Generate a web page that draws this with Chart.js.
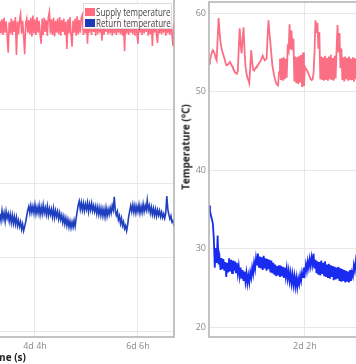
<!DOCTYPE html>
<html><head><meta charset="utf-8">
<script src="https://cdn.jsdelivr.net/npm/chart.js@4/dist/chart.umd.min.js"></script>
<style>
html,body{margin:0;padding:0;background:#fff;width:356px;height:364px;overflow:hidden;position:relative;font-family:'Open Sans',sans-serif}
.wrap{position:absolute}
#legend{position:absolute;left:83px;top:3px;width:89px;height:26px;background:rgba(255,255,255,0.95);border:1px solid #dcdcdc;box-sizing:border-box}
.lsq{position:absolute;left:1px;width:10px;height:8px}
.ltx{position:absolute;left:12px;font-family:'Open Sans',sans-serif;font-size:10px;line-height:11px;color:#444;white-space:nowrap;transform:scaleX(0.8);transform-origin:0 50%}
#xtitle{position:absolute;left:-13px;top:351px;font-weight:bold;font-size:10px;line-height:13px;color:#222;white-space:nowrap}
#ytitle{position:absolute;left:186px;top:147px;transform:translate(-50%,-50%) rotate(-90deg);font-weight:bold;font-size:10px;line-height:13px;color:#222;white-space:nowrap}
</style></head><body>
<div class="wrap" style="left:-204px;top:-5px;width:380px;height:369px"><canvas id="cl" width="380" height="369" style="width:380px;height:369px"></canvas></div>
<div class="wrap" style="left:176px;top:0px;width:342px;height:364px"><canvas id="cr" width="342" height="364" style="width:342px;height:364px"></canvas></div>
<div id="legend"></div>
<div id="xtitle">Time (s)</div>
<div id="ytitle">Temperature (°C)</div>
<script>
// ---- data (time in hours, sampled every half hour) ----
const SERIES_NAMES = ['Supply temperature', 'Return temperature'];
const X_TICKS = [50, 100, 150];
const LEFT_Y_TICKS = [10, 20, 30, 40, 50];
const RIGHT_Y_TICKS = [20, 30, 40, 50, 60];

const LEFT_T0 = 83, LEFT_STEP = 0.5;
const leftSupply = [
  51.9,50.2,52.1,50.0,52.3,50.3,51.8,49.9,47.6,51.7,50.2,52.2,50.0,51.9,50.4,52.4,47.3,51.8,50.1,52.0,
  52.8,50.2,51.9,49.9,47.4,51.6,52.2,50.3,52.0,50.1,52.3,49.8,52.6,50.2,52.1,50.0,52.4,50.3,51.9,50.1,
  48.8,52.2,50.0,52.3,50.4,52.0,49.9,52.4,53.1,50.2,52.1,50.0,52.3,49.8,51.9,50.3,52.2,50.1,52.4,49.9,
  52.0,50.4,52.2,50.0,51.8,48.1,52.1,50.2,52.4,50.0,48.4,51.9,50.3,52.2,49.9,52.5,50.1,52.0,50.3,52.3,
  52.7,50.0,52.2,50.2,52.4,48.8,52.1,50.3,52.6,50.0,52.2,50.4,51.9,49.9,52.6,50.1,52.2,50.3,52.0,49.2,
  52.3,50.0,52.1,50.4,52.4,50.1,52.6,50.2,52.0,49.9,52.3,50.2,52.1,50.0,52.4,50.3,51.9,50.1,52.2,49.9,
  52.0,47.8,52.3,50.2,52.1,50.0,52.4,50.3,52.0,50.1,52.6,49.9,52.2,50.2,48.8,52.1,50.3,52.5,50.0,52.2,
  50.2,52.0,50.4,52.3,49.9,52.1,50.1,52.4,48.5,52.0,50.3,52.2,50.0,48.9,51.9,50.2,52.3,50.1,52.0,50.3,
  52.4,49.9,52.6,50.2,52.1,50.0,52.3,50.2,48.5,51.6,50.4];
const leftReturn = [
  25.9,25.0,26.3,25.2,26.0,24.9,26.2,25.3,25.9,24.9,25.8,24.7,25.7,24.6,25.5,24.5,25.4,24.3,25.0,24.2,
  24.8,23.8,24.5,23.6,24.2,24.8,25.6,26.4,26.9,26.0,27.0,26.1,26.9,26.0,27.1,25.9,26.8,26.0,27.0,25.8,
  26.8,25.9,27.1,26.0,26.7,25.8,26.9,25.7,26.6,25.8,26.5,25.5,26.6,25.4,26.3,25.5,26.2,25.2,26.0,25.1,
  25.7,24.7,25.5,24.5,25.3,24.3,25.1,24.1,24.9,24.0,24.8,24.1,25.0,24.2,25.3,26.2,27.1,27.6,26.5,27.4,
  26.4,27.3,26.3,27.2,26.5,27.4,26.2,27.2,26.4,27.3,26.3,27.0,26.2,26.9,25.9,26.8,25.8,26.7,25.7,26.6,
  25.6,26.5,25.5,26.7,25.6,26.5,25.8,26.7,26.0,27.0,26.4,28.2,26.3,25.7,26.2,25.1,25.6,24.6,25.3,24.3,
  24.8,23.9,24.3,23.6,24.4,25.5,26.3,27.0,26.2,27.1,26.1,27.0,26.0,26.9,26.2,27.1,26.0,26.9,26.1,27.2,
  26.2,27.0,26.4,27.7,26.4,27.0,26.0,26.8,25.8,26.6,25.7,26.5,25.6,26.4,25.7,26.3,25.5,26.1,25.4,25.9,
  25.3,26.0,28.3,26.5,25.8,25.2,25.6,24.8,25.0,24.2,23.7];

const RIGHT_T0 = 0, RIGHT_STEP = 0.5;
const rightSupply = [
  53.6,54.1,54.5,55.0,55.3,55.1,54.8,54.3,54.0,56.8,59.4,57.6,56.3,55.6,55.1,54.7,54.3,53.8,53.4,53.4,
  53.5,53.7,53.8,53.5,53.3,53.0,52.8,52.5,52.4,52.3,52.6,55.5,58.1,56.0,54.9,56.8,58.2,55.4,53.3,52.4,
  51.8,51.5,51.1,53.2,55.3,53.8,52.8,52.7,52.9,53.1,53.3,53.4,53.6,53.8,54.0,54.3,54.6,54.3,54.0,54.1,
  54.2,56.9,59.1,57.5,56.2,54.8,53.4,52.7,52.0,51.5,51.1,50.9,50.8,52.5,54.2,51.5,54.3,51.4,54.4,51.6,
  54.2,51.8,55.6,55.2,58.6,55.4,57.8,55.3,56.8,51.3,54.5,51.1,54.4,51.0,54.6,51.2,54.7,50.6,55.0,50.7,
  53.2,52.9,52.8,52.5,52.2,51.9,51.6,51.5,51.6,52.4,55.0,59.1,57.5,58.8,55.5,57.6,51.6,54.5,51.5,54.4,
  51.4,54.6,51.5,54.3,51.4,54.5,51.6,54.7,51.5,54.3,51.4,54.6,51.7,55.5,58.5,55.0,57.5,53.0,55.5,51.5,
  54.4,51.3,54.5,51.6,54.3,51.4,54.5,51.6,54.2,51.5,54.4,51.3,54.3,51.6,54.2,51.5];
const rightReturn = [
  35.5,34.9,34.2,33.8,33.2,31.4,27.6,30.1,28.2,31.7,28.0,28.9,27.3,28.8,27.4,28.7,27.2,28.3,26.4,28.2,
  27.0,28.8,27.1,28.6,26.9,28.5,27.2,28.4,26.9,28.2,26.8,27.8,26.5,27.6,26.2,27.3,25.9,27.1,25.8,26.9,
  25.6,26.6,25.7,27.0,26.3,27.6,26.8,28.2,27.4,28.8,27.9,29.4,27.6,29.0,27.5,28.9,27.3,29.1,27.5,28.8,
  27.2,28.7,27.4,28.6,27.0,28.5,26.9,28.2,26.7,28.0,26.5,27.8,26.6,27.9,26.4,27.8,26.5,27.7,26.3,27.6,
  26.4,27.5,26.2,27.2,25.9,26.9,25.6,26.7,25.4,26.5,25.2,26.3,25.1,26.2,25.5,26.6,25.9,27.0,26.4,27.6,
  26.9,28.0,27.2,28.4,27.6,28.7,27.8,28.9,28.0,29.4,27.5,28.6,26.9,28.4,26.7,28.3,26.6,28.5,26.8,28.2,
  26.5,28.4,26.4,28.0,26.3,28.1,26.2,27.9,26.4,27.8,26.0,27.7,26.1,27.6,26.2,27.7,25.9,27.5,25.8,27.4,
  25.9,27.3,25.7,27.2,25.8,27.1,25.7,27.3,25.9,27.0,26.5,27.9,27.2,28.4,27.4,28.2];

// ---- helpers ----
function toPoints(vals, t0, step) { return vals.map((v, i) => ({x: t0 + i * step, y: v})); }
function fmtTime(h) { const d = Math.floor(h / 24), r = Math.round(h - d * 24); return d + 'd ' + r + 'h'; }

const framePlugin = {
  id: 'frame',
  afterDraw(chart) {
    const a = chart.chartArea, ctx = chart.ctx;
    ctx.save();
    ctx.strokeStyle = '#b0b0b0';
    ctx.lineWidth = 1.5;
    ctx.strokeRect(a.left, a.top, a.right - a.left, a.bottom - a.top);
    ctx.restore();
  }
};

function makeChart(id, sup, ret, t0, step, xmin, xmax, ymin, ymax, yticks, colors, pad, lw) {
  return new Chart(document.getElementById(id), {
    type: 'line',
    data: {
      datasets: [
        {label: SERIES_NAMES[0], data: toPoints(sup, t0, step), borderColor: colors[0], borderWidth: lw, pointRadius: 0, fill: false, tension: 0},
        {label: SERIES_NAMES[1], data: toPoints(ret, t0, step), borderColor: colors[1], borderWidth: lw, pointRadius: 0, fill: false, tension: 0}
      ]
    },
    options: {
      responsive: false, animation: false, events: [],
      layout: {padding: pad},
      plugins: {legend: {display: false}, tooltip: {enabled: false}},
      scales: {
        x: {
          type: 'linear', min: xmin, max: xmax,
          afterBuildTicks: s => { s.ticks = X_TICKS.filter(v => v >= s.min && v <= s.max).map(v => ({value: v})); },
          afterFit: s => { s.height = 27; s.paddingLeft = 0; s.paddingRight = 0; },
          grid: {color: '#e8e8e8', lineWidth: 1, drawTicks: false},
          border: {display: false},
          ticks: {padding: 4, color: '#8a8a8a', font: {family: 'Open Sans', size: 9}, maxRotation: 0, autoSkip: false, callback: v => fmtTime(v)}
        },
        y: {
          type: 'linear', min: ymin, max: ymax,
          afterBuildTicks: s => { s.ticks = yticks.map(v => ({value: v})); },
          afterFit: s => { s.width = 33; s.paddingTop = 0; s.paddingBottom = 0; },
          grid: {color: '#e8e8e8', lineWidth: 1, drawTicks: false},
          border: {display: false},
          ticks: {padding: 3, color: '#8a8a8a', font: {family: 'Open Sans', size: 9}, callback: v => String(v)}
        }
      }
    },
    plugins: [framePlugin]
  });
}

const LEFT_COLORS = ['#ff6b80', '#1f3fbf'];
const RIGHT_COLORS = ['#fb6f85', '#1a2bf0'];
makeChart('cl', leftSupply, leftReturn, LEFT_T0, LEFT_STEP, 0, 167.5, 9.3, 55.1, LEFT_Y_TICKS, LEFT_COLORS, {top: 2, right: 2, left: 0, bottom: 0}, 1.6);
makeChart('cr', rightSupply, rightReturn, RIGHT_T0, RIGHT_STEP, 0, 160, 18.76, 61.44, RIGHT_Y_TICKS, RIGHT_COLORS, {top: 2, right: 2, left: 0, bottom: 0}, 1.8);

// legend (left panel)
const lg = document.getElementById('legend');
const LEGEND_COLORS = ['#ff6b80', '#1a3bb8'];
SERIES_NAMES.forEach((name, i) => {
  const sq = document.createElement('div');
  sq.className = 'lsq'; sq.style.top = (4 + i * 11) + 'px'; sq.style.background = LEGEND_COLORS[i];
  const tx = document.createElement('div');
  tx.className = 'ltx'; tx.style.top = (2.5 + i * 11) + 'px'; tx.textContent = name;
  lg.appendChild(sq); lg.appendChild(tx);
});
</script>
</body></html>
